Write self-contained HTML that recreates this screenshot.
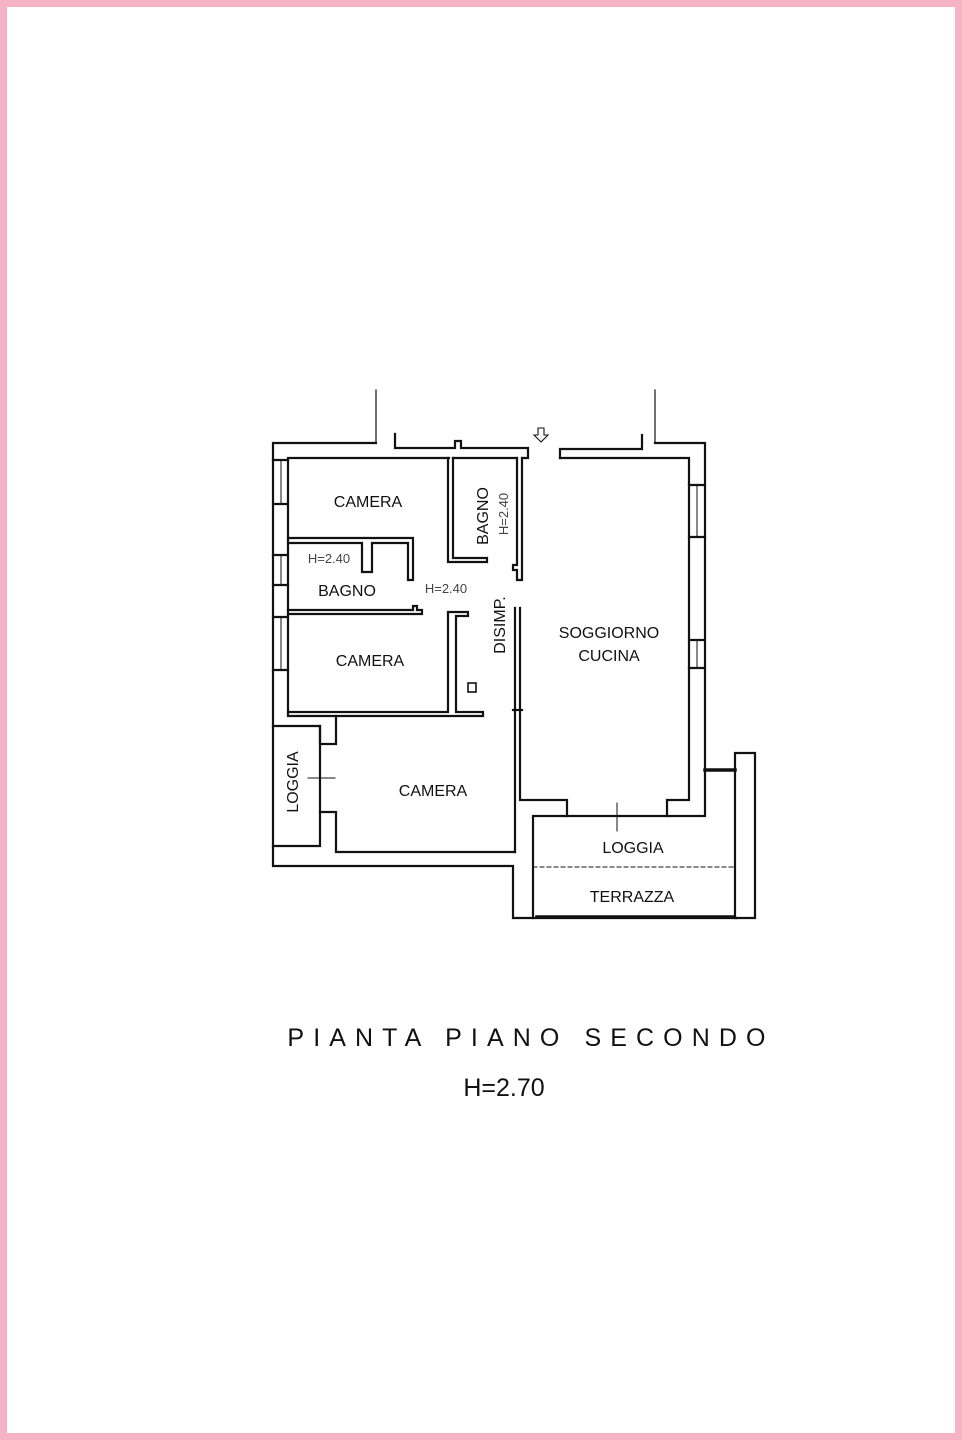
<!DOCTYPE html>
<html><head><meta charset="utf-8"><style>
html,body{margin:0;padding:0;background:#fff}
svg{display:block}
text{font-family:"Liberation Sans",Arial,sans-serif;fill:#111}
</style></head><body>
<svg width="962" height="1440" viewBox="0 0 962 1440" xmlns="http://www.w3.org/2000/svg">
<rect x="3.5" y="3.5" width="955" height="1433" fill="none" stroke="#f6b3c8" stroke-width="7"/>
<g fill="none" stroke="#111" stroke-width="2.2" stroke-linecap="square">
<line x1="376" y1="390" x2="376" y2="443" stroke-width="1.2"/>
<line x1="655" y1="390" x2="655" y2="443" stroke-width="1.2"/>
<polyline points="376,443 273,443 273,866 513,866 513,918 737,918"/>
<polyline points="288,712 288,458 449,458"/>
<line x1="273" y1="460" x2="288" y2="460"/><line x1="273" y1="504" x2="288" y2="504"/>
<line x1="273" y1="555" x2="288" y2="555"/><line x1="273" y1="585" x2="288" y2="585"/>
<line x1="273" y1="617" x2="288" y2="617"/><line x1="273" y1="670" x2="288" y2="670"/>
<line x1="281" y1="460" x2="281" y2="504" stroke-width="1"/>
<line x1="281" y1="555" x2="281" y2="585" stroke-width="1"/>
<line x1="281" y1="617" x2="281" y2="670" stroke-width="1"/>
<polyline points="395,434 395,448 455,448 455,441 461,441 461,448 528,448 528,458 522,458"/>
<line x1="453" y1="458" x2="517" y2="458"/>
<polyline points="448,458 448,562 487,562 487,558 453,558 453,458"/>
<polyline points="517,458 517,565 513,565 513,570 517,570 517,580 522,580 522,458"/>
<polyline points="288,538 413,538 413,580 408,580 408,543 372,543 372,572 362,572 362,543 288,543"/>
<polyline points="288,610 413,610 413,606 417,606 417,610 422,610 422,614 288,614"/>
<polyline points="483,712 483,716 288,716 288,712 448,712 448,612 468,612 468,616 456,616 456,712 483,712"/>
<rect x="468" y="683" width="8" height="9" stroke-width="1.6"/>
<polyline points="515,608 515,852"/>
<polyline points="520,608 520,800 567,800 567,816 533,816 533,918"/>
<line x1="513" y1="710" x2="522" y2="710"/>
<polyline points="336,716 336,744 320,744 320,726 273,726"/>
<polyline points="320,726 320,846 273,846"/>
<polyline points="320,812 336,812 336,852 515,852"/>
<line x1="308" y1="778" x2="335" y2="778" stroke-width="1"/>
<line x1="320" y1="744" x2="320" y2="812" stroke-width="1"/>
<polyline points="560,458 560,449 642,449 642,434 642,449"/>
<polyline points="655,443 705,443 705,816 567,816"/>
<polyline points="560,458 689,458 689,800 667,800 667,816"/>
<line x1="689" y1="485" x2="705" y2="485"/><line x1="689" y1="537" x2="705" y2="537"/>
<line x1="689" y1="640" x2="705" y2="640"/><line x1="689" y1="668" x2="705" y2="668"/>
<line x1="697" y1="485" x2="697" y2="537" stroke-width="1"/>
<line x1="697" y1="640" x2="697" y2="668" stroke-width="1"/>
<line x1="617" y1="803" x2="617" y2="831" stroke-width="1"/>
<line x1="705" y1="770" x2="735" y2="770" stroke-width="3.5"/>
<polyline points="735,918 735,753 755,753 755,918 735,918"/>
<line x1="537" y1="917" x2="733" y2="917" stroke-width="3.5"/>
<line x1="533" y1="867" x2="735" y2="867" stroke-width="1" stroke-dasharray="4,3"/>
<path d="M538,428 h6 v7 h4 l-7,7 l-7,-7 h4 z" stroke-width="1.1"/>
</g>
<g font-size="16">
<text x="368" y="507" text-anchor="middle">CAMERA</text>
<text x="347" y="596" text-anchor="middle">BAGNO</text>
<text x="370" y="666" text-anchor="middle">CAMERA</text>
<text x="433" y="796" text-anchor="middle">CAMERA</text>
<text x="609" y="638" text-anchor="middle">SOGGIORNO</text>
<text x="609" y="661" text-anchor="middle">CUCINA</text>
<text x="633" y="853" text-anchor="middle">LOGGIA</text>
<text x="632" y="902" text-anchor="middle">TERRAZZA</text>
<text transform="translate(488,516) rotate(-90)" text-anchor="middle">BAGNO</text>
<text transform="translate(505,625) rotate(-90)" text-anchor="middle">DISIMP.</text>
<text transform="translate(298,782) rotate(-90)" text-anchor="middle">LOGGIA</text>
</g>
<g font-size="13">
<text x="329" y="563" text-anchor="middle" style="fill:#444">H=2.40</text>
<text x="446" y="593" text-anchor="middle" style="fill:#444">H=2.40</text>
<text transform="translate(508,514) rotate(-90)" text-anchor="middle" style="fill:#444">H=2.40</text>
</g>
<text x="531" y="1046" text-anchor="middle" font-size="25" letter-spacing="9.1">PIANTA PIANO SECONDO</text>
<text x="504" y="1096" text-anchor="middle" font-size="25">H=2.70</text>
</svg>
</body></html>
